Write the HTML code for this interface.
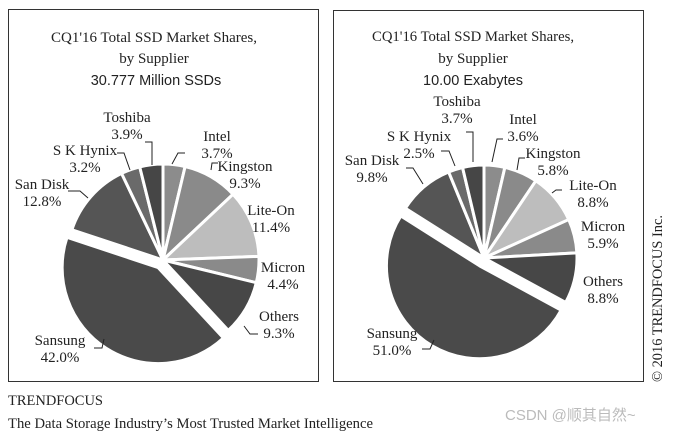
<!DOCTYPE html>
<html><head><meta charset="utf-8"><style>
body{margin:0;background:#fff;width:680px;height:434px;overflow:hidden;font-family:"Liberation Serif",serif;}
svg text{font-family:"Liberation Serif",serif;fill:#222;}
</style></head><body>
<svg id="s" width="680" height="434">
<rect x="8.5" y="9.5" width="310" height="372" fill="none" stroke="#333"/>
<rect x="333.5" y="10.5" width="310" height="371" fill="none" stroke="#333"/>
<g font-size="15" text-anchor="middle">
<text x="154" y="42" textLength="206" lengthAdjust="spacingAndGlyphs">CQ1'16 Total SSD Market Shares,</text>
<text x="154" y="63">by Supplier</text>
<text x="156" y="85" style="font-family:'Liberation Sans',sans-serif" font-size="14.5">30.777 Million SSDs</text>
<text x="473" y="41" textLength="202" lengthAdjust="spacingAndGlyphs">CQ1'16 Total SSD Market Shares,</text>
<text x="473" y="63">by Supplier</text>
<text x="473" y="85" style="font-family:'Liberation Sans',sans-serif" font-size="14.5">10.00 Exabytes</text>
</g>
<g id="left"></g>
<g id="right"></g>
<text x="8" y="405" font-size="15" textLength="95" lengthAdjust="spacingAndGlyphs">TRENDFOCUS</text>
<text x="8" y="428" font-size="15" textLength="365" lengthAdjust="spacingAndGlyphs">The Data Storage Industry’s Most Trusted Market Intelligence</text>
<text x="662" y="382" font-size="15" textLength="167" lengthAdjust="spacingAndGlyphs" transform="rotate(-90 662 382)">© 2016 TRENDFOCUS Inc.</text>
<text x="505" y="420" font-size="15" style="font-family:'Liberation Sans','Noto Sans CJK SC',sans-serif;fill:#bbb">CSDN @顺其自然~</text>
</svg>
<script>
const suppliers=["Intel","Kingston","Lite-On","Micron","Others","Sansung","San Disk","S K Hynix","Toshiba"];
const leftValues=[3.7,9.3,11.4,4.4,9.3,42.0,12.8,3.2,3.9];
const rightValues=[3.6,5.8,8.8,5.9,8.8,51.0,9.8,2.5,3.7];
const colors=["#8c8c8c","#8a8a8a","#bdbdbd","#8a8a8a","#474747","#4a4a4a","#555","#6a6a6a","#464646"];
const explode=[0,0,0,0,0,9,0,0,0];
const NS="http://www.w3.org/2000/svg";
function pie(gid,vals,cx,cy,r,labels,leaders){
  const g=document.getElementById(gid);
  const tot=vals.reduce((a,b)=>a+b,0);
  let a0=-Math.PI/2;
  vals.forEach((v,i)=>{
    const a1=a0+v/tot*2*Math.PI, am=(a0+a1)/2;
    const ox=cx+explode[i]*Math.cos(am), oy=cy+explode[i]*Math.sin(am);
    const large=(a1-a0)>Math.PI?1:0;
    const p=document.createElementNS(NS,"path");
    p.setAttribute("d",`M${ox},${oy}L${ox+r*Math.cos(a0)},${oy+r*Math.sin(a0)}A${r},${r} 0 ${large} 1 ${ox+r*Math.cos(a1)},${oy+r*Math.sin(a1)}Z`);
    p.setAttribute("fill",colors[i]);p.setAttribute("stroke","#fff");p.setAttribute("stroke-width","3");
    
    
    g.appendChild(p);
    const L=labels[i];
    [[suppliers[i],L[0],L[1]],[v.toFixed(1)+"%",L[0],L[1]+17]].forEach((t,k)=>{
      const tx=document.createElementNS(NS,"text");
      tx.setAttribute("x",t[1]);tx.setAttribute("y",t[2]);tx.setAttribute("font-size","15");tx.setAttribute("text-anchor","middle");
      tx.textContent=t[0];
      
      
      g.appendChild(tx);
    });
    if(leaders[i]){
      const ln=document.createElementNS(NS,"polyline");
      ln.setAttribute("points",leaders[i]);
      ln.setAttribute("fill","none");ln.setAttribute("stroke","#222");ln.setAttribute("stroke-width","1");
      
      
      g.appendChild(ln);
    }
    a0=a1;
  });
}
pie("left",leftValues,163,260,96,[
 [217,141],[245,171],[271,215],[283,272],[279,321],[60,345],[42,189],[85,155],[127,122]],
 ["172,164 178,153 185,153","211,170 212,163 218,163",null,null,"244,326 250,334 258,334","104,339 102,348 94,348","88,198 80,191 68,191","130,170 124,153 117,153","152,165 152,142 145,142"]);
pie("right",rightValues,484,258,93,[
 [523,124],[553,158],[593,190],[603,231],[603,286],[392,338],[372,165],[419,141],[457,106]],
 ["492,162 497,139 503,139","517,170 519,158 525,158","552,193 556,190 562,190",null,null,"434,340 430,349 422,349","423,184 413,168 406,168","455,166 449,151 441,151","473,162 473,132 466,132"]);
</script>
</body></html>
